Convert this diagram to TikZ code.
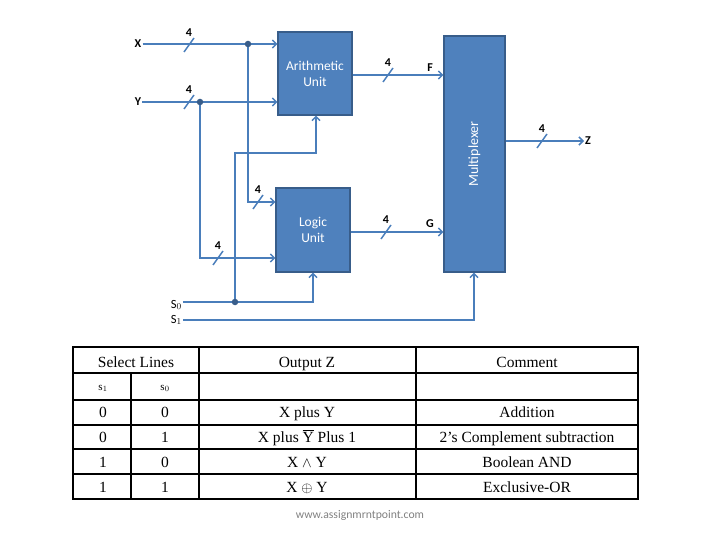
\documentclass[tikz,border=0pt]{standalone}
\usepackage{fontspec}
\setmainfont{Liberation Serif}
\newfontfamily\calfnt{Carlito}
\usetikzlibrary{arrows.meta,calc}
\definecolor{boxfill}{HTML}{4F81BD}
\definecolor{boxedge}{HTML}{385D8A}
\definecolor{wire}{HTML}{4A7EBB}
\tikzset{
  blk/.style={draw=boxedge,line width=1.2pt,fill=boxfill,text=white,font=\calfnt\fontsize{13.5}{16}\selectfont,align=center,inner sep=0pt},
  wr/.style={draw=wire,line width=1.5pt},
  arr/.style={wr,-{Straight Barb[length=4pt,width=8pt]}},
  lbl/.style={font=\calfnt\bfseries\fontsize{12}{14}\selectfont,inner sep=1pt},
  num/.style={font=\calfnt\bfseries\fontsize{12}{14}\selectfont,inner sep=0pt},
  dotc/.style={circle,fill=boxedge,inner sep=0pt,minimum size=6.5pt},
  tl/.style={draw=black,line width=1.1pt},
  tt/.style={font=\fontsize{15.5}{18}\selectfont,inner sep=0pt,anchor=base},
}
\newcommand{\busslash}[3]{%
  \draw[wr] (#1-5,#2+7) -- (#1+5,#2-7);
  \node[num] at (#1,#2-12) {#3};}
\begin{document}
\begin{tikzpicture}[x=1pt,y=-1pt]
\useasboundingbox (0,0) rectangle (720,540);
% blocks
\node[blk,minimum width=74pt,minimum height=83pt] (arith) at (315,73.5) {Arithmetic\\Unit};
\node[blk,minimum width=74pt,minimum height=84pt] (logic) at (313,230) {Logic\\Unit};
\node[blk,minimum width=61pt,minimum height=236pt] (mux) at (474.5,154) {};
\node[font=\calfnt\fontsize{14}{16}\selectfont,text=white,rotate=90] (muxt) at (mux.center) {Multiplexer};
% labels
\node[lbl] (xl) at (138,44) {X};
\node[lbl] (yl) at (138,102) {Y};
\node[lbl] (fl) at (430,68) {F};
\node[lbl] (gl) at (430,224) {G};
\node[lbl,anchor=west] (zl) at (584,141) {Z};
\node[font=\calfnt\fontsize{12.5}{14}\selectfont,inner sep=0pt,anchor=east] (s0l) at (182,305) {S$_0$};
\node[font=\calfnt\fontsize{12.5}{14}\selectfont,inner sep=0pt,anchor=east] (s1l) at (182,320) {S$_1$};
% coordinates
\coordinate (dx) at (248,44);
\coordinate (dy) at (200,102);
\coordinate (ds) at (235,302);
\coordinate (s0s) at (183,302);
\coordinate (s1s) at (183,320);
\coordinate (lx) at (276,202);
\coordinate (ly) at (276,258);
\coordinate (ms) at (474,320);
% X and Y inputs
\draw[arr] (xl.east) -- (xl.east -| arith.west);
\draw[arr] (yl.east) -- (yl.east -| arith.west);
\draw[arr] (dx) |- (lx -| logic.west);
\draw[arr] (dy) |- (ly -| logic.west);
\node[dotc] at (dx) {};
\node[dotc] at (dy) {};
% select lines
\draw[wr] (s0s) -- (ds);
\draw[arr] (ds) -| (logic.south);
\draw[arr] (ds) |- (316,153) -- (arith.south -| 316,0);
\node[dotc] at (ds) {};
\draw[arr] (s1s) -| (mux.south -| ms);
% outputs
\draw[arr] (arith.east |- 0,75) -- (mux.west |- 0,75);
\draw[arr] (logic.east |- 0,232) -- (mux.west |- 0,232);
\draw[arr] (mux.east |- zl) -- (zl.west);
% bus slashes
\busslash{189}{45}{4}
\busslash{189}{102}{4}
\busslash{388}{75}{4}
\busslash{386}{232}{4}
\busslash{542}{141}{4}
\busslash{258}{202}{4}
\busslash{218}{258}{4}
% table
\draw[tl] (73,347) rectangle (638,499);
\draw[tl] (73,373) -- (638,373);
\draw[tl] (73,400) -- (638,400);
\draw[tl] (73,425) -- (638,425);
\draw[tl] (73,449) -- (638,449);
\draw[tl] (73,474) -- (638,474);
\draw[tl] (199,347) -- (199,499);
\draw[tl] (416,347) -- (416,499);
\draw[tl] (131,373) -- (131,499);
\node[tt] (h1) at (136,367) {Select Lines};
\node[tt] (h2) at (307,367) {Output Z};
\node[tt] (h3) at (527,367) {Comment};
\node[tt,font=\fontsize{11}{13}\selectfont] (sh1) at (103,390) {s$_1$};
\node[tt,font=\fontsize{11}{13}\selectfont] (sh0) at (165,390) {s$_0$};
\node[tt] at (103,417) {0};
\node[tt] at (165,417) {0};
\node[tt] at (307,417) {X plus Y};
\node[tt] at (527,417) {Addition};
\node[tt] at (103,442) {0};
\node[tt] at (165,442) {1};
\node[tt] at (307,442) {X plus $\overline{\mbox{Y}}$ Plus 1};
\node[tt] at (527,442) {2’s Complement subtraction};
\node[tt] at (103,467) {1};
\node[tt] at (165,467) {0};
\node[tt] at (307,467) {X $\wedge$ Y};
\node[tt] at (527,467) {Boolean AND};
\node[tt] at (103,492) {1};
\node[tt] at (165,492) {1};
\node[tt] at (307,492) {X $\oplus$ Y};
\node[tt] at (527,492) {Exclusive-OR};
% watermark
\node[font=\calfnt\fontsize{11.7}{14}\selectfont,text=gray] (wm) at (360,515) {www.assignmrntpoint.com};
\end{tikzpicture}
\end{document}
